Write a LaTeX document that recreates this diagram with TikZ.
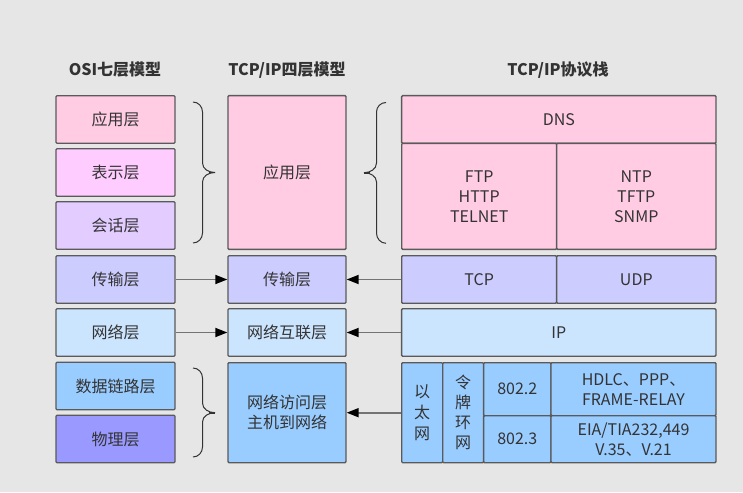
\documentclass[tikz,border=0pt]{standalone}
\usepackage{fontspec}
\setmainfont{Noto Sans CJK SC}
\usetikzlibrary{arrows.meta}
\definecolor{bg}{HTML}{E6E6E6}
\definecolor{edge}{HTML}{5A5A5A}
\definecolor{txt}{HTML}{333333}
\definecolor{cApp}{HTML}{FFCCE3}
\definecolor{cPre}{HTML}{FFCCFF}
\definecolor{cSes}{HTML}{E3CCFF}
\definecolor{cTra}{HTML}{CCCCFF}
\definecolor{cNet}{HTML}{CCE5FF}
\definecolor{cLnk}{HTML}{99CCFF}
\definecolor{cPhy}{HTML}{9999FF}
\tikzset{
  box/.style={draw=edge, line width=1.4pt, rounded corners=1pt, text=txt, inner sep=0pt,
    font=\fontsize{16}{20}\selectfont, align=center},
  ttl/.style={text=txt, font=\fontsize{16}{18}\selectfont\bfseries},
  conn/.style={draw=edge!85, line width=1.8pt, -{Triangle[length=12pt,width=9pt,black]}},
  brc/.style={draw=txt, line width=1pt}
}
\begin{document}
\begin{tikzpicture}[x=1pt,y=-1pt]
\fill[bg] (0,0) rectangle (743,492);
\useasboundingbox (0,0) rectangle (743,492);
% titles
\node[ttl] (t1) at (115,70) {OSI七层模型};
\node[ttl] (t2) at (287,70) {TCP/IP四层模型};
\node[ttl] (t3) at (558,70) {TCP/IP协议栈};
% OSI
\tikzset{osi/.style={box, minimum width=119pt, minimum height=47.5pt}}
\node[osi, fill=cApp] (o1) at (115.5,119.5) {应用层};
\node[osi, fill=cPre] (o2) at (115.5,172.5) {表示层};
\node[osi, fill=cSes] (o3) at (115.5,225.5) {会话层};
\node[osi, fill=cTra] (o4) at (115.5,279.5) {传输层};
\node[osi, fill=cNet] (o5) at (115.5,332.5) {网络层};
\node[osi, fill=cLnk] (o6) at (115.5,386) {数据链路层};
\node[osi, fill=cPhy] (o7) at (115.5,439) {物理层};
% TCP/IP four layers
\tikzset{tcp/.style={box, minimum width=118pt}}
\node[tcp, fill=cApp, minimum height=153.6pt] (p1) at (287,172.5) {应用层};
\node[tcp, fill=cTra, minimum height=47.5pt] (p2) at (287,279.5) {传输层};
\node[tcp, fill=cNet, minimum height=47.5pt] (p3) at (287,332.5) {网络互联层};
\node[tcp, fill=cLnk, minimum height=100pt] (p4) at (287,412.7) {网络访问层\\主机到网络};
% stack
\node[box, fill=cApp, minimum width=314.3pt, minimum height=47.6pt] (dns) at (558.8,119.5) {DNS};
\node[box, fill=cApp, minimum width=155pt, minimum height=106pt] (ftp) at (479.2,196.3) {FTP\\HTTP\\TELNET};
\node[box, fill=cApp, minimum width=159.3pt, minimum height=106pt] (ntp) at (636.3,196.3) {NTP\\TFTP\\SNMP};
\node[box, fill=cTra, minimum width=155pt, minimum height=47.5pt] (stcp) at (479.2,279.5) {TCP};
\node[box, fill=cTra, minimum width=159.3pt, minimum height=47.5pt] (udp) at (636.3,279.5) {UDP};
\node[box, fill=cNet, minimum width=314.3pt, minimum height=47.5pt] (ip) at (558.8,332.5) {IP};
\node[box, fill=cLnk, minimum width=41pt, minimum height=100pt, font=\fontsize{16}{21}\selectfont] (eth) at (422.2,412.7) {以\\太\\网};
\node[box, fill=cLnk, minimum width=41pt, minimum height=100pt, font=\fontsize{16}{20}\selectfont] (tok) at (463.2,412.7) {令\\牌\\环\\网};
\node[box, fill=cLnk, minimum width=67.3pt, minimum height=53pt] (e22) at (517.3,389.2) {802.2};
\node[box, fill=cLnk, minimum width=67.3pt, minimum height=47pt] (e23) at (517.3,439.2) {802.3};
\node[box, fill=cLnk, minimum width=165pt, minimum height=53pt] (hdlc) at (633.5,389.2) {HDLC、PPP、\\FRAME-RELAY};
\node[box, fill=cLnk, minimum width=165pt, minimum height=47pt] (eia) at (633.5,439.2) {EIA/TIA232,449\\V.35、V.21};
% arrows
\draw[conn] (o4.east) -- (p2.west);
\draw[conn] (o5.east) -- (p3.west);
\draw[conn] (stcp.west) -- (p2.east);
\draw[conn] (ip.west) -- (p3.east);
\draw[conn] (eth.west) -- (p4.east);
% braces
\draw[brc] (193,102) to[out=0,in=90] (202.5,112) -- (202.5,163) to[out=-90,in=180] (215,172.5);
\draw[brc] (193,243) to[out=0,in=-90] (202.5,233) -- (202.5,182) to[out=90,in=180] (215,172.5);
\draw[line width=1.6pt, draw=txt] (209,172.5) -- (215,172.5);
\draw[brc] (386,102.5) to[out=180,in=90] (376.5,112) -- (376.5,163) to[out=-90,in=0] (364,172.7);
\draw[brc] (386,243.3) to[out=180,in=-90] (376.5,233) -- (376.5,182) to[out=90,in=0] (364,172.7);
\draw[line width=1.6pt, draw=txt] (364,172.7) -- (370,172.7);
\draw[brc] (193,368) to[out=0,in=90] (202.5,378) -- (202.5,403) to[out=-90,in=180] (215,412.7);
\draw[brc] (193,457) to[out=0,in=-90] (202.5,447) -- (202.5,422) to[out=90,in=180] (215,412.7);
\draw[line width=1.6pt, draw=txt] (209,412.7) -- (215,412.7);
\end{tikzpicture}
\end{document}
